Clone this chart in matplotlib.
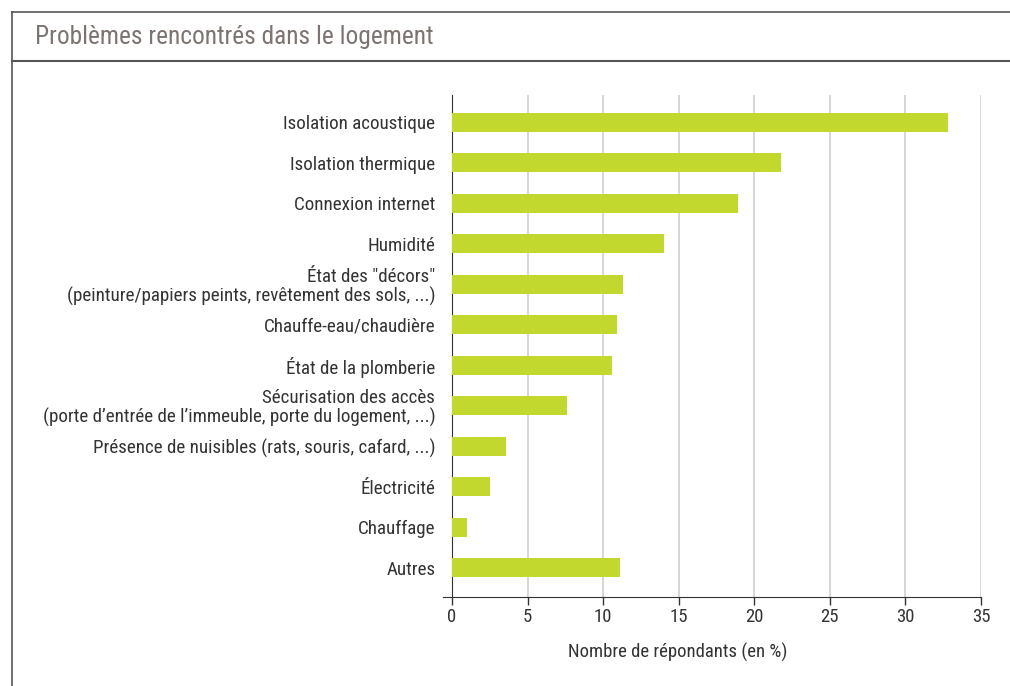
import matplotlib.pyplot as plt
from matplotlib.lines import Line2D

categories = [
    "Isolation acoustique",
    "Isolation thermique",
    "Connexion internet",
    "Humidité",
    "État des \"décors\"\n(peinture/papiers peints, revêtement des sols, ...)",
    "Chauffe-eau/chaudière",
    "État de la plomberie",
    "Sécurisation des accès\n(porte d\u2019entrée de l\u2019immeuble, porte du logement, ...)",
    "Présence de nuisibles (rats, souris, cafard, ...)",
    "Électricité",
    "Chauffage",
    "Autres",
]
values = [32.8, 21.8, 18.9, 14.0, 11.3, 10.9, 10.6, 7.6, 3.6, 2.5, 1.0, 11.1]
x_ticks = [0, 5, 10, 15, 20, 25, 30, 35]

plt.rcParams['font.family'] = ['Liberation Sans Narrow', 'Roboto Condensed', 'Lato', 'DejaVu Sans']
text_color = '#333333'

fig = plt.figure(figsize=(10.1, 6.86), dpi=100)
ax = fig.add_axes([0.4475, 0.1297, 0.5238, 0.7318])

pos = list(range(len(categories)))
ax.barh(pos, values, height=0.47, color='#c2d82f', zorder=3)
ax.set_ylim(len(categories) - 0.28, -0.67)
ax.set_xlim(0, 35)
ax.set_xticks(x_ticks)
ax.set_xticklabels([str(t) for t in x_ticks], fontsize=13.5, color=text_color)
ax.set_yticks(pos)
ax.set_yticklabels(categories, fontsize=13.7, color=text_color, linespacing=1.05)
ax.tick_params(axis='y', length=0, pad=12)
ax.tick_params(axis='x', length=6, width=1, color='#333333', pad=2)
ax.grid(axis='x', color='#d0d0d0', linewidth=1.2, zorder=0)
for s in ['top', 'right']:
    ax.spines[s].set_visible(False)
ax.spines['left'].set_color('#333333')
ax.spines['bottom'].set_color('#333333')
ax.spines['bottom'].set_bounds(-0.6, 35)
ax.set_xlabel('Nombre de répondants (en %)', fontsize=13.5, color=text_color)
ax.xaxis.set_label_coords(0.427, -0.092)

# frame and header
fw, fh = 1010, 686
lc = '#555555'
fig.add_artist(Line2D([12 / fw, 12 / fw], [0, 1 - 12 / fh], color=lc, lw=1.2))
fig.add_artist(Line2D([12 / fw, 1], [1 - 12 / fh, 1 - 12 / fh], color=lc, lw=1.2))
fig.add_artist(Line2D([12 / fw, 1], [1 - 61 / fh, 1 - 61 / fh], color=lc, lw=1.5))
fig.text(35 / fw, 1 - 37 / fh, 'Problèmes rencontrés dans le logement',
         fontsize=18.3, color='#7d7370', va='center', ha='left')

fig.savefig('out.png', dpi=100)
